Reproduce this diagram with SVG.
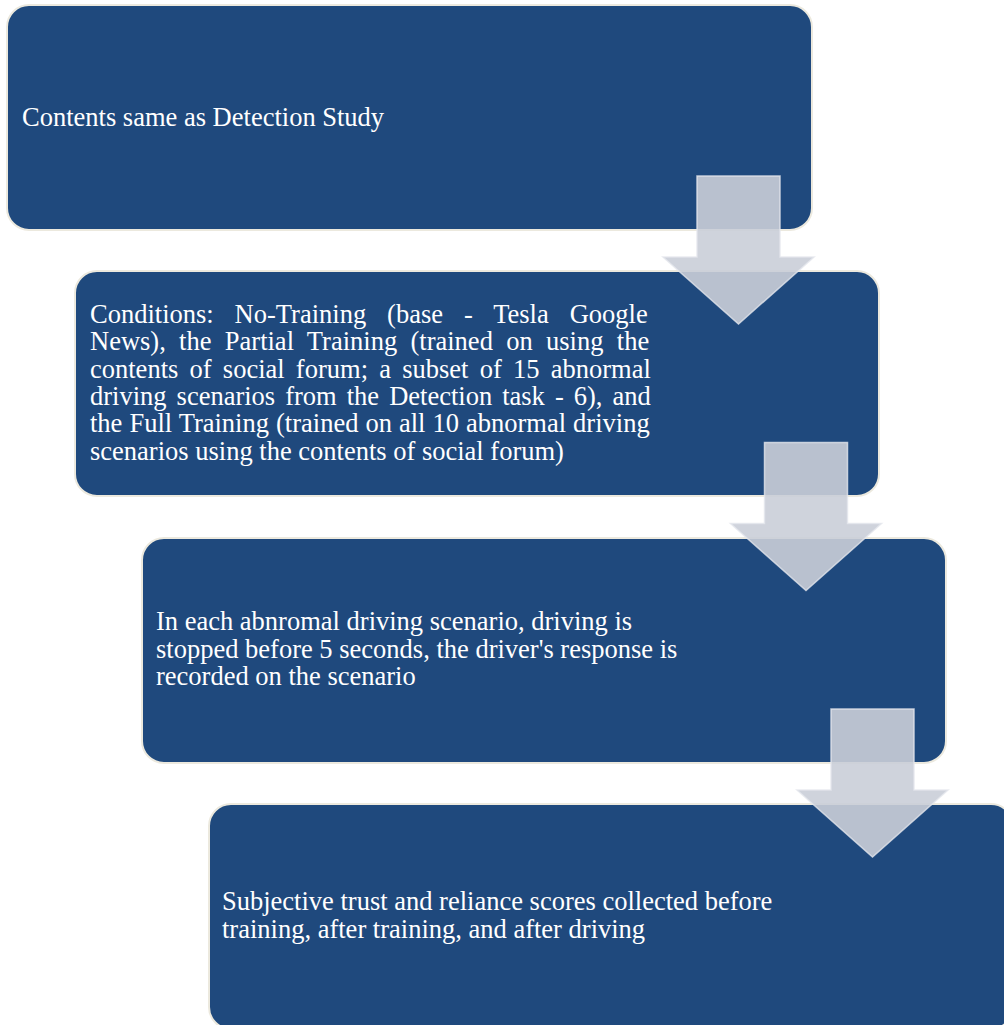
<svg xmlns="http://www.w3.org/2000/svg" width="1004" height="1025" viewBox="0 0 1004 1025">
  <style>
    .box { fill: #1F497D; stroke: #ECE9DE; stroke-width: 2; }
    .txt { font-family: "Liberation Serif", "Times New Roman", serif; font-size: 26.5px; fill: #FFFFFF; }
    .arrow { fill: #CACED8; fill-opacity: 0.9; stroke: #E4E6EC; stroke-opacity: 0.8; stroke-width: 1.5; stroke-linejoin: miter; }
  </style>
  <defs>
    <!-- block down-arrow: shaft 83 wide, head 152 wide, tip 148 below top -->
    <path id="downArrow" d="M0,0 H83 V81 H117 L41.5,148 L-34,81 H0 Z"/>
  </defs>
  <rect width="1004" height="1025" fill="#FFFFFF"/>

  <g id="step1">
    <rect class="box" x="7" y="5" width="805" height="225" rx="22" ry="22"/>
    <text class="txt" x="22" y="126">Contents same as Detection Study</text>
  </g>

  <g id="step2">
    <rect class="box" x="75" y="271" width="804" height="225" rx="22" ry="22"/>
    <!-- justified paragraph: extra word spacing per line, last line ragged -->
    <text class="txt">
      <tspan x="90" y="322.5" word-spacing="14.3">Conditions: No-Training (base - Tesla Google</tspan>
      <tspan x="90" y="350" word-spacing="6.7">News), the Partial Training (trained on using the</tspan>
      <tspan x="90" y="377.5" word-spacing="4.6">contents of social forum; a subset of 15 abnormal</tspan>
      <tspan x="90" y="405" word-spacing="3.4">driving scenarios from the Detection task - 6), and</tspan>
      <tspan x="90" y="432" word-spacing="0.4">the Full Training (trained on all 10 abnormal driving</tspan>
      <tspan x="90" y="460">scenarios using the contents of social forum)</tspan>
    </text>
  </g>

  <g id="step3">
    <rect class="box" x="142" y="538" width="804" height="225" rx="22" ry="22"/>
    <text class="txt">
      <tspan x="156" y="630">In each abnromal driving scenario, driving is</tspan>
      <tspan x="156" y="657.5">stopped before 5 seconds, the driver's response is</tspan>
      <tspan x="156" y="685">recorded on the scenario</tspan>
    </text>
  </g>

  <g id="step4">
    <rect class="box" x="209" y="804" width="804" height="225" rx="22" ry="22"/>
    <text class="txt">
      <tspan x="222" y="910">Subjective trust and reliance scores collected before</tspan>
      <tspan x="222" y="937.5">training, after training, and after driving</tspan>
    </text>
  </g>

  <g id="connectors">
    <use href="#downArrow" class="arrow" transform="translate(697,176)"/>
    <use href="#downArrow" class="arrow" transform="translate(764.5,442.5)"/>
    <use href="#downArrow" class="arrow" transform="translate(831,709)"/>
  </g>
</svg>
